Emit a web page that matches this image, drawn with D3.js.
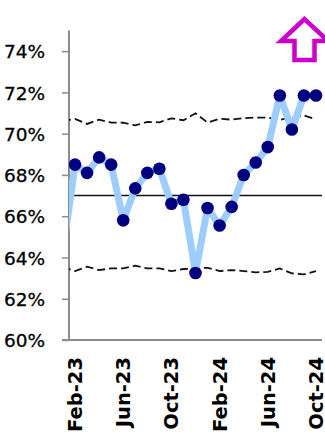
<!DOCTYPE html>
<html>
<head>
<meta charset="utf-8">
<script src="https://cdn.jsdelivr.net/npm/d3@7/dist/d3.min.js"></script>
<style>
  html, body { margin: 0; padding: 0; background: #fff; }
  svg { display: block; }
</style>
</head>
<body>
<svg id="chart" width="325" height="447"></svg>
<script>
// Months; Jan-23 is a lead-in point that sits left of the plot and is clipped.
const months = ["Jan-23","Feb-23","Mar-23","Apr-23","May-23","Jun-23","Jul-23","Aug-23","Sep-23","Oct-23","Nov-23","Dec-23",
                "Jan-24","Feb-24","Mar-24","Apr-24","May-24","Jun-24","Jul-24","Aug-24","Sep-24","Oct-24"];
const rate  = [64.3, 68.5, 68.1, 68.85, 68.5, 65.8, 67.35, 68.1, 68.3, 66.6, 66.8, 63.25,
               66.4, 65.55, 66.45, 68.0, 68.6, 69.35, 71.85, 70.2, 71.85, 71.85];
const upper = [70.62, 70.72, 70.47, 70.68, 70.54, 70.53, 70.4, 70.57, 70.55, 70.74, 70.65, 70.99,
               70.54, 70.72, 70.68, 70.75, 70.78, 70.78, 70.66, 70.81, 70.88, 70.7];
const lower = [63.54, 63.34, 63.55, 63.39, 63.47, 63.47, 63.6, 63.47, 63.47, 63.34, 63.44, 63.47,
               63.5, 63.34, 63.39, 63.34, 63.28, 63.3, 63.47, 63.23, 63.18, 63.34];
const target = 67;
const yTicks = [60, 62, 64, 66, 68, 70, 72, 74];
const xTickLabels = ["Feb-23","Jun-23","Oct-23","Feb-24","Jun-24","Oct-24"];

const svg = d3.select("#chart");
const plotLeft = 69, plotRight = 322, plotTop = 30.5, plotBottom = 340;
const visibleCount = months.length - 1;
const bw = (plotRight - plotLeft) / visibleCount;

const x = d3.scaleBand().domain(months).range([plotLeft - bw, plotRight]).padding(0);
const cx = m => x(m) + x.bandwidth() / 2;
const y = d3.scaleLinear().domain([60, 75]).range([plotBottom, plotTop]);

svg.append("defs").append("clipPath").attr("id", "plot-clip")
  .append("rect").attr("x", plotLeft).attr("y", 0)
  .attr("width", plotRight - plotLeft + 10).attr("height", plotBottom);

const axisColor = "#8c8c8c";
const font = "'DejaVu Sans', sans-serif";

// Y axis
const yAxis = svg.append("g").attr("transform", `translate(${plotLeft},0)`)
  .call(d3.axisLeft(y).tickValues(yTicks).tickSize(7).tickPadding(17)
    .tickFormat(d => d + "%"));
yAxis.select(".domain").attr("stroke", axisColor).attr("stroke-width", 2)
  .attr("d", `M0,${plotTop}V${plotBottom}`);
yAxis.selectAll(".tick line").attr("stroke", axisColor).attr("stroke-width", 1.5);
yAxis.selectAll(".tick text").attr("font-family", font).attr("font-size", 18.5)
  .attr("fill", "#000").attr("stroke", "#000").attr("stroke-width", 0.3)
  .attr("dy", "0.36em");

// X axis
const xAxis = svg.append("g").attr("transform", `translate(0,${plotBottom})`)
  .call(d3.axisBottom(x).tickValues(xTickLabels).tickSize(0));
xAxis.select(".domain").attr("stroke", axisColor).attr("stroke-width", 2)
  .attr("d", `M${plotLeft - 7},0H${plotRight}`);
xAxis.selectAll(".tick text")
  .attr("font-family", font).attr("font-size", 19.5).attr("font-weight", "bold")
  .attr("fill", "#000")
  .attr("text-anchor", "end")
  .attr("transform", "rotate(-90)")
  .attr("x", -17).attr("y", 0).attr("dy", "0.36em");

const plot = svg.append("g").attr("clip-path", "url(#plot-clip)");

// Target line
plot.append("line")
  .attr("x1", plotLeft).attr("x2", plotRight)
  .attr("y1", y(target)).attr("y2", y(target))
  .attr("stroke", "#111").attr("stroke-width", 1.6);

// Control limits
const limitLine = d3.line().x((d, i) => cx(months[i])).y(d => y(d));
[upper, lower].forEach(series => {
  plot.append("path").datum(series)
    .attr("d", limitLine)
    .attr("fill", "none").attr("stroke", "#111")
    .attr("stroke-width", 1.8).attr("stroke-dasharray", "8,4");
});

// Monthly rate
plot.append("path").datum(rate)
  .attr("d", limitLine)
  .attr("fill", "none").attr("stroke", "#9dcdfc")
  .attr("stroke-width", 7).attr("stroke-linejoin", "round");

plot.selectAll("circle.pt").data(rate.slice(1))
  .join("circle").attr("class", "pt")
  .attr("cx", (d, i) => cx(months[i + 1]))
  .attr("cy", d => y(d))
  .attr("r", 6.3)
  .attr("fill", "#000080");

// Direction indicator
svg.append("path")
  .attr("d", "M304.5,19 L281,41 L294.5,41 L294.5,60 L314.5,60 L314.5,41 L328,41 Z")
  .attr("fill", "#fff").attr("stroke", "#cc00cc").attr("stroke-width", 4.5)
  .attr("stroke-linejoin", "miter");
</script>
</body>
</html>
